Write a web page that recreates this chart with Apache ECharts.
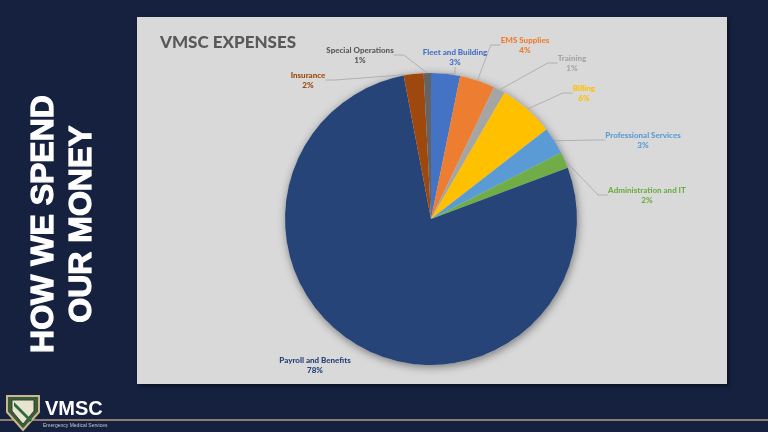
<!DOCTYPE html>
<html>
<head>
<meta charset="utf-8">
<script src="https://cdn.jsdelivr.net/npm/echarts@6/dist/echarts.min.js"></script>
<style>
html,body{margin:0;padding:0;background:#15213f;}
#chart{width:768px;height:432px;}
</style>
</head>
<body>
<div id="chart"></div>
<script>
// ---- data ----
const categories = ['Fleet and Building','EMS Supplies','Training','Billing','Professional Services','Administration and IT','Payroll and Benefits','Insurance','Special Operations'];
const values = [3.2, 3.9, 1.3, 6.1, 3.0, 1.8, 77.7, 2.2, 0.8];
const colors = ['#4472C4','#ED7D31','#A5A5A5','#FFC000','#5B9BD5','#70AD47','#264478','#9E480E','#636363'];
const labelColors = ['#4472C4','#ED7D31','#A5A5A5','#FFC000','#5B9BD5','#70AD47','#264478','#9E480E','#595959'];
const chartTitle = 'VMSC EXPENSES';
const sideTitle = ['HOW WE SPEND','OUR MONEY'];

// label placement (layout, not data)
const labelPos = [[455,57],[525,45],[572,63],[584,93],[643,140],[647,195],[315,365],[308,80],[360,55]];

const chart = echarts.init(document.getElementById('chart'));
const data = categories.map((c,i)=>({
  name:c, value:values[i],
  itemStyle:{color:colors[i]},
  label:{color:labelColors[i]},
  labelLine: i===6 ? {show:false} : {show:true}
}));

chart.setOption({
  backgroundColor:'#15213f',
  animation:false,
  graphic:[
    {type:'rect', shape:{x:137,y:17,width:590,height:367}, style:{fill:'#d9d9d9', shadowBlur:4, shadowColor:'rgba(0,0,0,0.5)', shadowOffsetX:2, shadowOffsetY:2}, z:-10},
    {type:'rect', shape:{x:0,y:419,width:768,height:2}, style:{fill:'#8e7d72'}, z:-10},
    {type:'text', x:160, y:43, style:{text:chartTitle, fill:'#595959', font:'900 17px Lato', textVerticalAlign:'middle'}},
    {type:'text', x:44, y:224, rotation:Math.PI/2, style:{text:sideTitle[0], fill:'#ffffff', stroke:'#ffffff', lineWidth:1.2, font:'900 32px "Liberation Sans"', textAlign:'center', textVerticalAlign:'middle'}},
    {type:'text', x:82, y:224, rotation:Math.PI/2, style:{text:sideTitle[1], fill:'#ffffff', stroke:'#ffffff', lineWidth:1.2, font:'900 32px "Liberation Sans"', textAlign:'center', textVerticalAlign:'middle'}},
    // logo
    {type:'polygon', shape:{points:[[7,396],[39,396],[39,412],[23,430],[7,412]]}, style:{fill:'#3d5a3c', stroke:'#c9b98a', lineWidth:2}},
    {type:'polygon', shape:{points:[[12,400],[34,400],[34,411],[23,424],[12,411]]}, style:{fill:'#e8e4d0', stroke:'#2c4a2c', lineWidth:1}},
    {type:'polygon', shape:{points:[[14,402],[32,420],[30,422],[14,406]]}, style:{fill:'#2c6b3a'}},
    {type:'text', x:45, y:409, style:{text:'VMSC', fill:'#ffffff', font:'bold 20px "Liberation Sans"', textVerticalAlign:'middle'}},
    {type:'text', x:43, y:426, style:{text:'Emergency Medical Services', fill:'#c8c8d0', font:'5px "Liberation Sans"', textVerticalAlign:'middle'}}
  ],
  series:[
    {
      type:'pie', silent:true, z:1,
      center:[431,219], radius:146,
      label:{show:false}, labelLine:{show:false},
      itemStyle:{color:'#d9d9d9', shadowBlur:8, shadowColor:'rgba(0,0,0,0.45)', shadowOffsetX:1, shadowOffsetY:2},
      data:[{value:1, name:'shadow'}]
    },
    {
      type:'pie', z:2,
      center:[431,219], radius:146,
      startAngle:90, clockwise:true,
      percentPrecision:0,
      avoidLabelOverlap:false,
      itemStyle:{borderWidth:0},
      label:{
        show:true, position:'outside',
        formatter:'{b}\n{d}%',
        fontFamily:'Lato', fontWeight:900, fontSize:8, lineHeight:10, align:'center'
      },
      labelLine:{show:true, length:10, length2:10, lineStyle:{color:'#a6a6a6', width:0.8}},
      labelLayout:function(p){
        const pos = labelPos[p.dataIndex];
        return {x:pos[0], y:pos[1], align:'center', verticalAlign:'middle'};
      },
      data:data
    }
  ]
});
</script>
</body>
</html>
